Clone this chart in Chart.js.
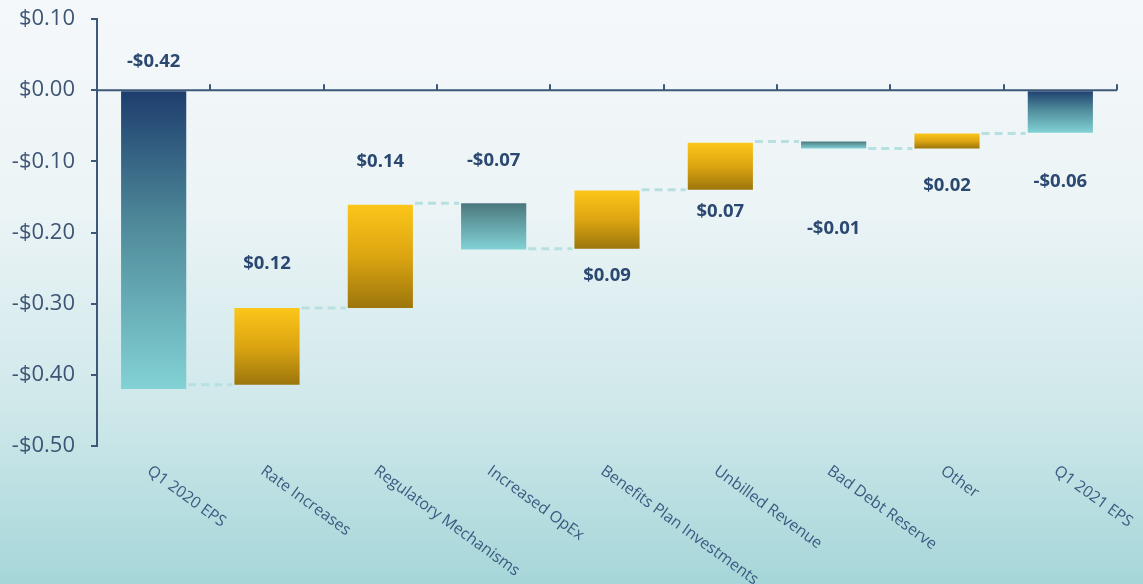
<!DOCTYPE html>
<html>
<head>
<meta charset="utf-8">
<script src="https://cdn.jsdelivr.net/npm/chart.js@4.4.1/dist/chart.umd.min.js"></script>
<style>
  html, body { margin: 0; padding: 0; background: #f4f8fa; }
  #wrap { width: 1143px; height: 584px; position: relative; }
</style>
</head>
<body>
<div id="wrap"><canvas id="c"></canvas></div>
<script>
// ---- data ----
const categories = ['Q1 2020 EPS', 'Rate Increases', 'Regulatory Mechanisms', 'Increased OpEx',
  'Benefits Plan Investments', 'Unbilled Revenue', 'Bad Debt Reserve', 'Other', 'Q1 2021 EPS'];
const barStart = [0, -0.414, -0.306, -0.159, -0.223, -0.140, -0.072, -0.082, 0];
const barEnd   = [-0.420, -0.306, -0.161, -0.224, -0.141, -0.074, -0.082, -0.061, -0.060];
const reported = [-0.42, 0.12, 0.14, -0.07, 0.09, 0.07, -0.01, 0.02, -0.06];
const barKind  = ['total', 'increase', 'increase', 'decrease', 'increase', 'increase', 'decrease', 'increase', 'total'];
const yTickValues = [0.10, 0.00, -0.10, -0.20, -0.30, -0.40, -0.50];

function money(v) {
  const a = Math.abs(v).toFixed(2);
  return (v < -0.0001 ? '-$' : '$') + a;
}

const AXIS = '#3d5878';
const gradStops = {
  total:    [[0, '#1d3d6d'], [0.45, '#4f8a9a'], [1, '#82d2d5']],
  increase: [[0, '#fcc61a'], [0.5, '#dca511'], [1, '#9c760c']],
  decrease: [[0, '#4a787e'], [1, '#82d2d5']]
};

function barFill(context) {
  const chart = context.chart;
  const i = context.dataIndex;
  const kind = barKind[i];
  const area = chart.chartArea;
  if (!area) return gradStops[kind][0][1];
  const y = chart.scales.y;
  const top = y.getPixelForValue(Math.max(barStart[i], barEnd[i]));
  const bot = y.getPixelForValue(Math.min(barStart[i], barEnd[i]));
  const g = chart.ctx.createLinearGradient(0, top, 0, Math.max(bot, top + 1));
  gradStops[kind].forEach(s => g.addColorStop(s[0], s[1]));
  return g;
}

const bgPlugin = {
  id: 'bg',
  beforeDraw(chart) {
    const c = chart.ctx;
    const g = c.createLinearGradient(0, 0, 0, chart.height);
    g.addColorStop(0, '#f5f8fa');
    g.addColorStop(0.35, '#ecf4f6');
    g.addColorStop(0.7, '#cfe8ea');
    g.addColorStop(1, '#a6d6d9');
    c.save();
    c.fillStyle = g;
    c.fillRect(0, 0, chart.width, chart.height);
    c.restore();
  }
};

const decoPlugin = {
  id: 'deco',
  afterDatasetsDraw(chart, args, opts) {
    const c = chart.ctx;
    const x = chart.scales.x, y = chart.scales.y;
    const area = chart.chartArea;
    const meta = chart.getDatasetMeta(0);
    const y0 = y.getPixelForValue(0);
    const catW = (area.right - area.left) / categories.length;
    c.save();
    // x axis line at zero, with upward tick marks on category boundaries
    c.strokeStyle = AXIS;
    c.lineWidth = 2;
    c.beginPath();
    c.moveTo(area.left, y0);
    c.lineTo(area.right, y0);
    for (let i = 0; i < categories.length; i++) {
      const bx = Math.round(x.getPixelForValue(i) + catW / 2);
      c.moveTo(bx, y0);
      c.lineTo(bx, y0 - 6);
    }
    c.stroke();

    // dashed connectors
    c.strokeStyle = '#b9e0e1';
    c.lineWidth = 3;
    c.setLineDash([8, 5]);
    for (let i = 0; i < categories.length - 1; i++) {
      const a = meta.data[i], b = meta.data[i + 1];
      const level = barKind[i + 1] === 'total' ? barEnd[i] : barStart[i + 1];
      const ly = y.getPixelForValue(level);
      c.beginPath();
      c.moveTo(a.x + a.width / 2 + 2, ly);
      c.lineTo(b.x - b.width / 2 - 2, ly);
      c.stroke();
    }
    c.setLineDash([]);

    // value labels
    c.fillStyle = '#2b4870';
    c.font = 'bold 18.5px "Open Sans"';
    c.textAlign = 'center';
    c.textBaseline = 'middle';
    for (let i = 0; i < categories.length; i++) {
      const el = meta.data[i];
      const top = y.getPixelForValue(Math.max(barStart[i], barEnd[i]));
      const bot = y.getPixelForValue(Math.min(barStart[i], barEnd[i]));
      const off = opts.labelOffsets[i];
      const ly = off < 0 ? top + off : bot + off;
      c.fillText(money(reported[i]), el.x, ly);
    }

    // rotated category labels
    c.fillStyle = '#3a5a80';
    c.font = '15.8px "Open Sans"';
    c.textAlign = 'left';
    c.textBaseline = 'top';
    for (let i = 0; i < categories.length; i++) {
      const cx = x.getPixelForValue(i);
      c.save();
      c.translate(cx, area.bottom + 17);
      c.rotate(36 * Math.PI / 180);
      c.fillText(categories[i], 0, 0);
      c.restore();
    }
    c.restore();
  }
};

new Chart(document.getElementById('c'), {
  type: 'bar',
  data: {
    labels: categories,
    datasets: [{
      data: barStart.map((s, i) => [s, barEnd[i]]),
      backgroundColor: barFill,
      borderWidth: 0,
      barPercentage: 0.575,
      categoryPercentage: 1.0
    }]
  },
  options: {
    responsive: true,
    maintainAspectRatio: false,
    animation: false,
    layout: { padding: { left: 0, top: 19, right: 26, bottom: 138 } },
    plugins: {
      legend: { display: false },
      tooltip: { enabled: false },
      deco: { labelOffsets: [-28, -44, -43, -43, 27, 22, 80, 37, 49] }
    },
    scales: {
      x: { display: false },
      y: {
        min: -0.5, max: 0.1,
        afterFit(scale) { scale.width = 97; scale.paddingTop = 0; scale.paddingBottom = 0; },
        afterBuildTicks(scale) { scale.ticks = yTickValues.map(v => ({ value: v })); },
        grid: { drawOnChartArea: false, drawTicks: true, tickLength: 6, color: AXIS, lineWidth: 2 },
        border: { display: true, color: AXIS, width: 2 },
        ticks: {
          padding: 16,
          color: '#3d5575',
          font: { family: '"Open Sans"', size: 22 },
          callback: (v) => money(v)
        }
      }
    }
  },
  plugins: [bgPlugin, decoPlugin]
});
</script>
</body>
</html>
